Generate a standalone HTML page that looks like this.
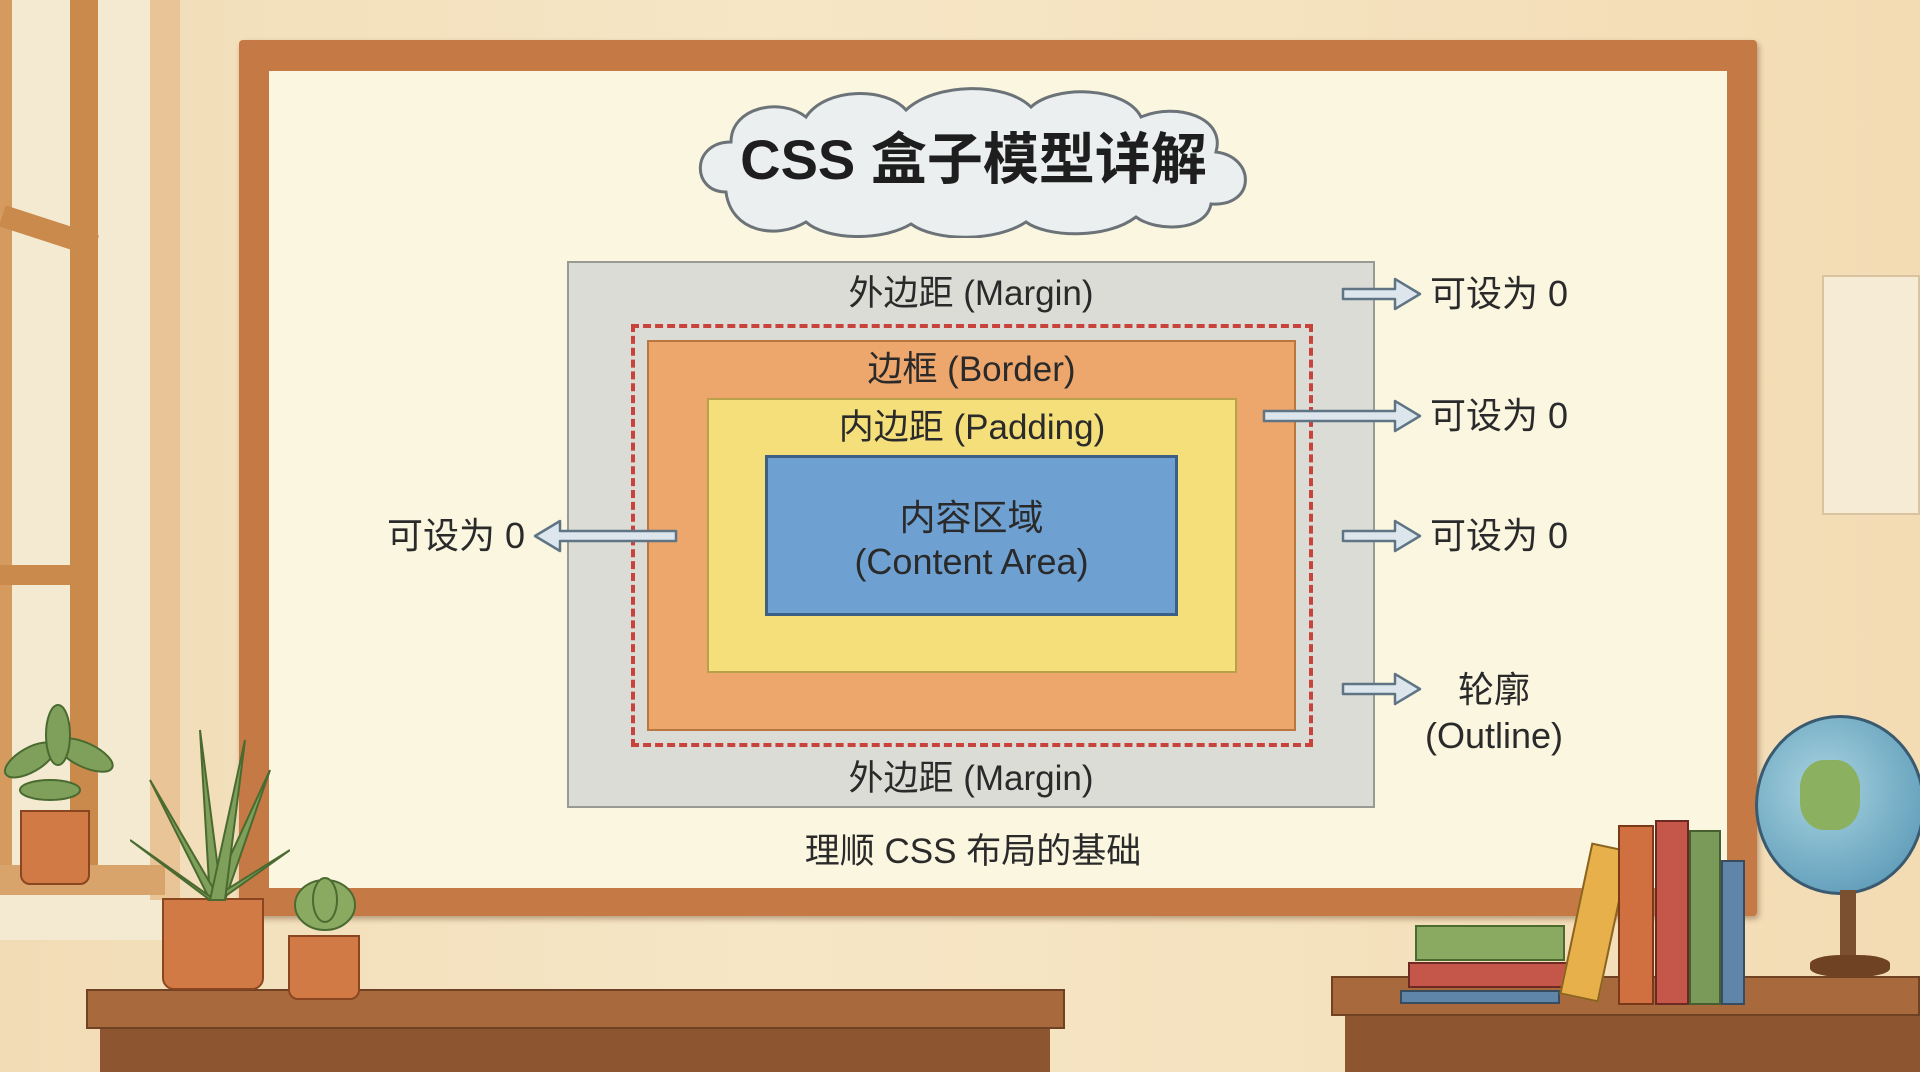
<!DOCTYPE html>
<html><head><meta charset="utf-8"><style>
body{margin:0;width:1920px;height:1072px;overflow:hidden;background:#f3dfba;font-family:"Liberation Sans","Noto Sans CJK SC",sans-serif;position:relative}
div{position:absolute;box-sizing:border-box}
.t{color:#2a2a2a;white-space:nowrap;text-align:center}
</style></head><body>
<!-- wall -->
<div style="left:0;top:0;width:1920px;height:1072px;background:linear-gradient(90deg,#f1dcb6,#f6e6c6 40%,#f3dcb4)"></div>
<!-- window -->
<div style="left:0;top:0;width:180px;height:940px;background:#f4ead2"></div>
<div style="left:70px;top:0;width:28px;height:870px;background:#c98a4c"></div>
<div style="left:0;top:0;width:12px;height:870px;background:#d59a5e"></div>
<div style="left:150px;top:0;width:30px;height:900px;background:#e8c497"></div>
<div style="left:0;top:220px;width:98px;height:22px;background:#c98a4c;transform:rotate(18deg)"></div>
<div style="left:0;top:565px;width:98px;height:20px;background:#c98a4c"></div>
<div style="left:0;top:865px;width:165px;height:30px;background:#d8a46b"></div>
<!-- board frame -->
<div style="left:239px;top:40px;width:1518px;height:876px;background:#c57a45;border-radius:4px;box-shadow:2px 3px 6px rgba(90,50,20,.4)"></div>
<div style="left:269px;top:71px;width:1458px;height:817px;background:#fbf6e0"></div>
<!-- paper on wall right -->
<div style="left:1822px;top:275px;width:98px;height:240px;background:#f6ecd6;border:2px solid #d9c3a0"></div>
<!-- cloud title -->
<svg style="position:absolute;left:686px;top:82px" width="574" height="156" viewBox="0 0 574 156">
<path d="M40 110 C5 110 5 60 45 60 C45 25 95 15 120 35 C140 5 200 5 220 28 C250 0 320 0 345 25 C370 2 440 5 455 35 C490 20 540 35 530 70 C570 75 570 125 525 122 C520 150 470 150 450 135 C420 158 360 155 340 140 C310 160 250 160 225 142 C195 160 140 158 120 140 C90 158 45 150 40 110 Z" fill="#eceff0" stroke="#6b7378" stroke-width="3"/>
</svg>
<div class="t" style="left:692px;top:125px;width:563px;font-size:56px;font-weight:bold;line-height:70px;color:#1e1e1e">CSS 盒子模型详解</div>
<!-- boxes -->
<div style="left:567px;top:261px;width:808px;height:547px;background:#dcdcd6;border:2px solid #9a9a94"></div>
<div style="left:631px;top:324px;width:682px;height:423px;border:4px dashed #c9433d"></div>
<div style="left:647px;top:340px;width:649px;height:391px;background:#eda66c;border:2px solid #b9773f"></div>
<div style="left:707px;top:398px;width:530px;height:275px;background:#f5df7a;border:2px solid #b9a14a"></div>
<div style="left:765px;top:455px;width:413px;height:161px;background:#6ea0d2;border:3px solid #3c5f86"></div>
<div class="t" style="left:567px;top:272px;width:808px;font-size:35px;line-height:44px">外边距 (Margin)</div>
<div class="t" style="left:567px;top:757px;width:808px;font-size:35px;line-height:44px">外边距 (Margin)</div>
<div class="t" style="left:647px;top:348px;width:649px;font-size:35px;line-height:44px">边框 (Border)</div>
<div class="t" style="left:707px;top:406px;width:530px;font-size:35px;line-height:44px">内边距 (Padding)</div>
<div class="t" style="left:765px;top:496px;width:413px;font-size:36px;line-height:44px">内容区域<br>(Content Area)</div>
<div class="t" style="left:569px;top:830px;width:808px;font-size:35px;line-height:44px">理顺 CSS 布局的基础</div>
<!-- arrows -->
<svg style="position:absolute;left:0;top:0" width="1920" height="1072">
<g fill="#dde6ec" stroke="#5f7484" stroke-width="2.5" stroke-linejoin="round">
<path d="M1343 289 h52 v-10 l25 15 l-25 15 v-10 h-52z"/>
<path d="M1264 411 h131 v-10 l25 15 l-25 15 v-10 h-131z"/>
<path d="M1343 531 h52 v-10 l25 15 l-25 15 v-10 h-52z"/>
<path d="M1343 684 h52 v-10 l25 15 l-25 15 v-10 h-52z"/>
<path d="M676 531 h-116 v-10 l-25 15 l25 15 v-10 h116z"/>
</g></svg>
<div class="t" style="left:1430px;top:272px;text-align:left;font-size:36px;line-height:44px">可设为 0</div>
<div class="t" style="left:1430px;top:394px;text-align:left;font-size:36px;line-height:44px">可设为 0</div>
<div class="t" style="left:1430px;top:514px;text-align:left;font-size:36px;line-height:44px">可设为 0</div>
<div class="t" style="left:387px;top:514px;text-align:left;font-size:36px;line-height:44px">可设为 0</div>
<div class="t" style="left:1414px;top:667px;width:160px;font-size:36px;line-height:46px">轮廓<br>(Outline)</div>
<!-- desks -->
<div style="left:86px;top:989px;width:979px;height:40px;background:#a86a3c;border:2px solid #6e4222"></div>
<div style="left:100px;top:1029px;width:950px;height:43px;background:#8e5630"></div>
<div style="left:1331px;top:976px;width:589px;height:40px;background:#a86a3c;border:2px solid #6e4222"></div>
<div style="left:1345px;top:1016px;width:575px;height:56px;background:#8e5630"></div>
<!-- plants -->
<div style="left:20px;top:810px;width:70px;height:75px;background:#d27a45;border:2px solid #8a4620;border-radius:0 0 10px 10px"></div>
<svg style="position:absolute;left:0;top:700px" width="130" height="120"><g fill="#7ea05a" stroke="#4a6a30" stroke-width="2"><ellipse cx="30" cy="60" rx="28" ry="12" transform="rotate(-30 30 60)"/><ellipse cx="85" cy="55" rx="30" ry="12" transform="rotate(25 85 55)"/><ellipse cx="58" cy="35" rx="12" ry="30"/><ellipse cx="50" cy="90" rx="30" ry="10"/></g></svg>
<div style="left:162px;top:898px;width:102px;height:92px;background:#d27a45;border:2px solid #8a4620;border-radius:0 0 12px 12px"></div>
<svg style="position:absolute;left:130px;top:720px" width="160" height="185"><g fill="#7ea05a" stroke="#4a6a30" stroke-width="2"><path d="M80 180 L70 10 L92 180Z"/><path d="M80 180 L20 60 L90 180Z"/><path d="M80 180 L140 50 L95 180Z"/><path d="M80 180 L0 120 L85 180Z"/><path d="M80 180 L160 130 L90 180Z"/><path d="M80 180 L115 20 L95 180Z"/></g></svg>
<div style="left:288px;top:935px;width:72px;height:65px;background:#d27a45;border:2px solid #8a4620;border-radius:0 0 10px 10px"></div>
<svg style="position:absolute;left:280px;top:870px" width="90" height="70"><g fill="#8aaa62" stroke="#4a6a30" stroke-width="2"><ellipse cx="45" cy="35" rx="30" ry="25"/><ellipse cx="45" cy="30" rx="12" ry="22"/></g></svg>
<!-- books -->
<div style="left:1400px;top:990px;width:160px;height:14px;background:#5f86a8;border:2px solid #384c60"></div>
<div style="left:1408px;top:962px;width:160px;height:26px;background:#c4574a;border:2px solid #6e2a22"></div>
<div style="left:1415px;top:925px;width:150px;height:36px;background:#8aaa62;border:2px solid #4a6a30"></div>
<div style="left:1575px;top:845px;width:40px;height:155px;background:#e8b04a;border:2px solid #8a6420;transform:rotate(12deg)"></div>
<div style="left:1618px;top:825px;width:36px;height:180px;background:#d07040;border:2px solid #7a3a1a"></div>
<div style="left:1655px;top:820px;width:34px;height:185px;background:#c4574a;border:2px solid #6e2a22"></div>
<div style="left:1689px;top:830px;width:32px;height:175px;background:#7a9a5a;border:2px solid #45602e"></div>
<div style="left:1721px;top:860px;width:24px;height:145px;background:#5f86a8;border:2px solid #384c60"></div>
<!-- globe -->
<div style="left:1755px;top:715px;width:170px;height:180px;border-radius:50%;background:radial-gradient(circle at 40% 40%,#a8d4e0,#4e8fb0);border:3px solid #3a5a70"></div>
<div style="left:1800px;top:760px;width:60px;height:70px;border-radius:40%;background:#8ab060"></div>
<div style="left:1840px;top:890px;width:16px;height:70px;background:#7a5030"></div>
<div style="left:1810px;top:955px;width:80px;height:22px;background:#6e4222;border-radius:40%"></div>
</body></html>
